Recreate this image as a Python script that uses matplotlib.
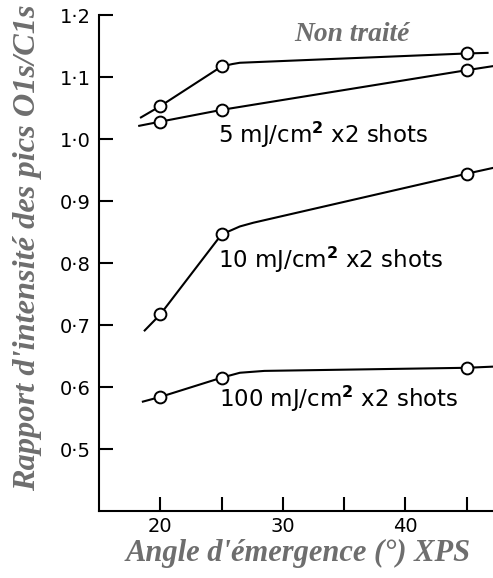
import matplotlib
matplotlib.use("Agg")
import matplotlib.pyplot as plt

# measured points (angle in degrees, O1s/C1s ratio)
angles = [20, 25, 45]
non_traite = [1.053, 1.117, 1.138]
mj5 = [1.028, 1.047, 1.111]
mj10 = [0.717, 0.846, 0.944]
mj100 = [0.584, 0.615, 0.631]

# hand-drawn curves through the points
non_traite_cx = [18.35, 20, 25, 25.9, 26.5, 45, 46.8]
non_traite_cy = [1.034, 1.053, 1.117, 1.121, 1.123, 1.138, 1.139]
mj5_cx = [18.2, 20, 25, 45, 47.3]
mj5_cy = [1.021, 1.028, 1.047, 1.111, 1.118]
mj10_cx = [18.67, 20, 25, 26.5, 27.6, 45, 47.3]
mj10_cy = [0.690, 0.717, 0.846, 0.859, 0.865, 0.944, 0.954]
mj100_cx = [18.5, 20, 25, 26.5, 28.5, 45, 47.3]
mj100_cy = [0.576, 0.584, 0.615, 0.623, 0.626, 0.631, 0.633]

yticks = [0.5, 0.6, 0.7, 0.8, 0.9, 1.0, 1.1, 1.2]
ytick_labels = ["0·5", "0·6", "0·7", "0·8", "0·9", "1·0", "1·1", "1·2"]
xticks = [20, 25, 30, 35, 40, 45]
xtick_labels = ["20", "", "30", "", "40", ""]

title_col = "#6e6e6e"
serif_bi = dict(family="Liberation Serif", weight="bold", style="italic", color=title_col)

fig = plt.figure(figsize=(4.93, 5.78), dpi=100)
ax = fig.add_axes([0.2008, 0.1159, 1 - 0.2008, 0.974 - 0.1159])

curves = [(non_traite_cx, non_traite_cy, non_traite),
          (mj5_cx, mj5_cy, mj5),
          (mj10_cx, mj10_cy, mj10),
          (mj100_cx, mj100_cy, mj100)]
for cx, cy, pts in curves:
    ax.plot(cx, cy, color="black", lw=1.5, solid_capstyle="butt", clip_on=False)
    ax.plot(angles, pts, "o", ms=8.5, mfc="white", mec="black", mew=1.4,
            clip_on=False, zorder=3)

ax.set_xlim(15, 47.16)
ax.set_ylim(0.4, 1.2)

for s in ["top", "right"]:
    ax.spines[s].set_visible(False)
ax.spines["left"].set_bounds(0.4, 1.2)
for s in ["left", "bottom"]:
    ax.spines[s].set_linewidth(1.5)

ax.set_yticks(yticks)
ax.set_yticklabels(ytick_labels)
ax.set_xticks(xticks)
ax.set_xticklabels(xtick_labels)
ax.tick_params(direction="in", length=10, width=1.5, labelsize=14, pad=6)
ax.tick_params(axis="x", labelsize=14, pad=4.5)

txt = dict(fontsize=16.5, family="DejaVu Sans", va="baseline", ha="left")
ax.text(24.7, 0.994, "5 mJ/cm$^{\\mathbf{2}}$ x2 shots", **txt)
ax.text(24.7, 0.7924, "10 mJ/cm$^{\\mathbf{2}}$ x2 shots", **txt)
ax.text(24.8, 0.5677, "100 mJ/cm$^{\\mathbf{2}}$ x2 shots", **txt)
ax.text(35.65, 1.169, "Non traité", ha="center", va="center", fontsize=19.8, **serif_bi)

fig.text(0.056, 0.571, "Rapport d'intensité des pics O1s/C1s", rotation=90,
         ha="center", va="center", fontsize=23.3, **serif_bi)
fig.text(0.604, 0.030, "Angle d'émergence (°) XPS", ha="center", va="baseline",
         fontsize=22, **serif_bi)

fig.savefig("out.png", dpi=100)
